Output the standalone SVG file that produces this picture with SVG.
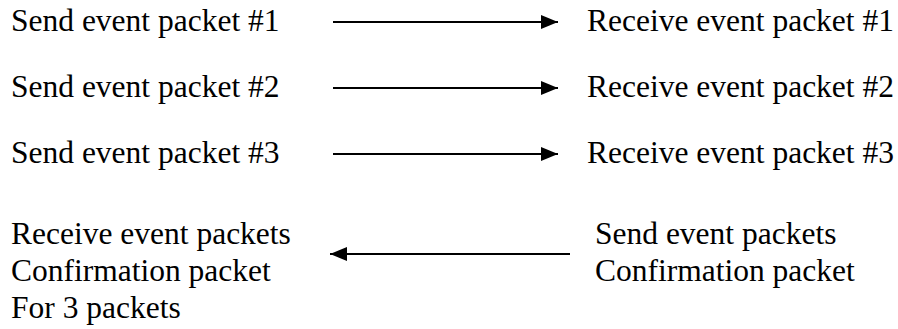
<svg xmlns="http://www.w3.org/2000/svg" width="898" height="329" viewBox="0 0 898 329">
<style>
text{font-family:"Liberation Serif","Times New Roman",serif;font-size:31.5px;fill:#000}
.c{stroke:#000;stroke-width:2;fill:none}
</style>
<defs>
<marker id="ah" markerWidth="17" markerHeight="14" refX="17" refY="7" orient="auto" markerUnits="userSpaceOnUse">
<path d="M0,0 L17,7 L0,14 Z" fill="#000"/>
</marker>
</defs>
<rect width="898" height="329" fill="#fff"/>
<g id="send1"><text x="11" y="31">Send event packet #1</text></g>
<g id="recv1"><text x="587" y="31">Receive event packet #1</text></g>
<g id="send2"><text x="11" y="97">Send event packet #2</text></g>
<g id="recv2"><text x="587" y="97">Receive event packet #2</text></g>
<g id="send3"><text x="11" y="163">Send event packet #3</text></g>
<g id="recv3"><text x="587" y="163">Receive event packet #3</text></g>
<g id="recvconf"><text x="11" y="244">Receive event packets</text><text x="11" y="281">Confirmation packet</text><text x="11" y="318">For 3 packets</text></g>
<g id="sendconf"><text x="595" y="244">Send event packets</text><text x="595" y="281">Confirmation packet</text></g>
<g id="connectors">
<line class="c" x1="333" y1="22" x2="558" y2="22" marker-end="url(#ah)"/>
<line class="c" x1="333" y1="88" x2="558" y2="88" marker-end="url(#ah)"/>
<line class="c" x1="333" y1="154" x2="558" y2="154" marker-end="url(#ah)"/>
<line class="c" x1="570" y1="254" x2="330" y2="254" marker-end="url(#ah)"/>
</g>
</svg>
